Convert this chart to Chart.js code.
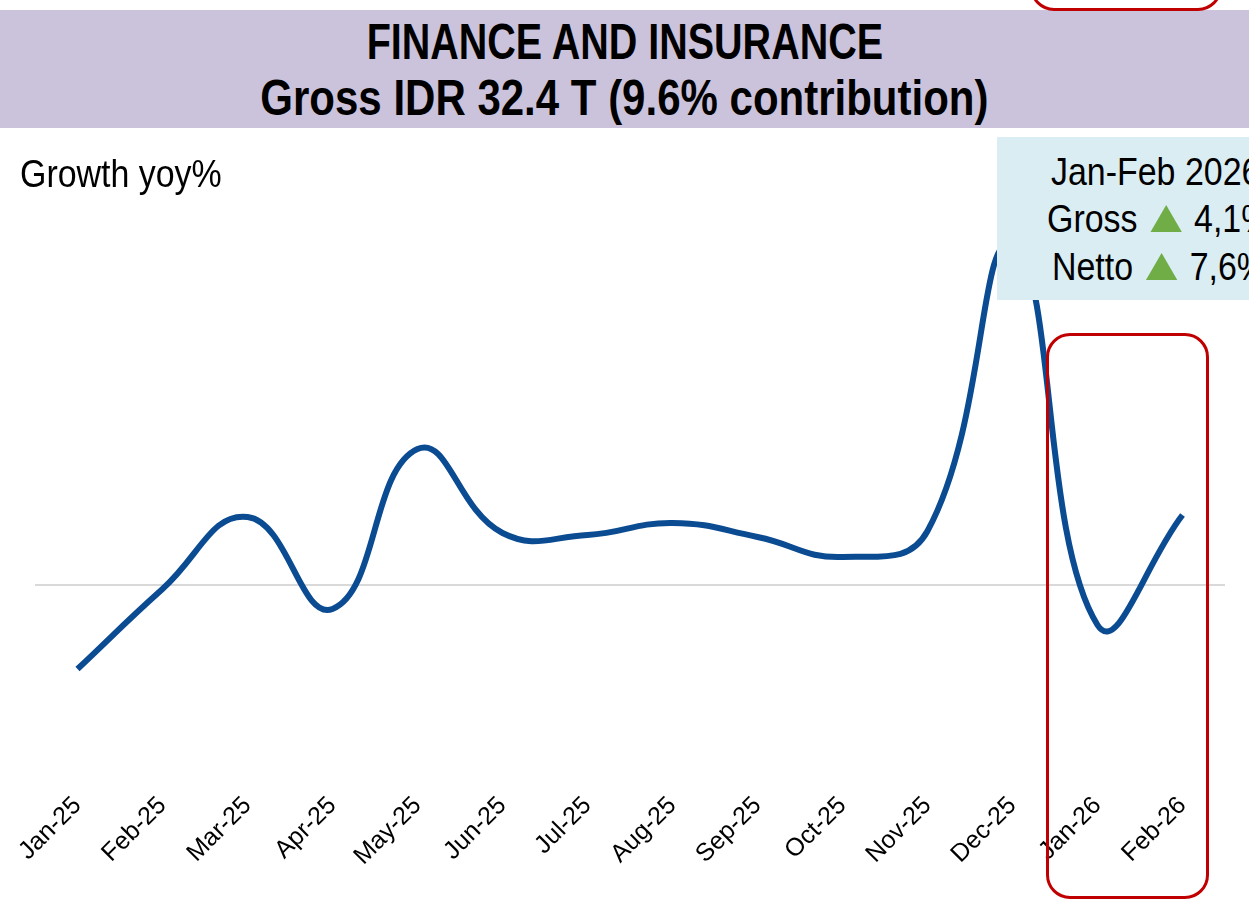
<!DOCTYPE html>
<html>
<head>
<meta charset="utf-8">
<script src="https://cdn.jsdelivr.net/npm/chart.js@4.4.1/dist/chart.umd.min.js"></script>
<style>
  html, body { margin: 0; padding: 0; background: #fff; }
  body { width: 1249px; height: 908px; position: relative; overflow: hidden;
         font-family: "Liberation Sans", Arial, sans-serif; color: #000; }
  #band {
    position: absolute; left: 0; top: 10px; width: 1249px; height: 118px;
    background: #cbc3db; text-align: center; padding-top: 4px; box-sizing: border-box;
  }
  #band .in { display: inline-block; transform-origin: center top;
              font-weight: bold; font-size: 50px; line-height: 56px; white-space: nowrap; }
  .sq { position: absolute; white-space: nowrap; transform: scaleX(0.87); transform-origin: left top;
        font-size: 39px; line-height: 48px; }
  #subtitle { left: 20px; top: 150px; z-index: 2; }
  #wrap { position: absolute; left: 0; top: 130px; width: 1249px; height: 778px; }
  #info { position: absolute; left: 997px; top: 137px; width: 260px; height: 163px;
          background: #daedf3; z-index: 3; }
  .tri { display: inline-block; width: 0; height: 0; border-left: 18px solid transparent;
         border-right: 18px solid transparent; border-bottom: 27px solid #70ad47; margin: 0 14px 0 15px; }
  .redbox { position: absolute; border: 3px solid #c00000; border-radius: 24px; z-index: 4; }
</style>
</head>
<body>
<div class="redbox" style="left:1030px; top:-40px; width:186px; height:45px;"></div>
<div id="band">
  <div class="in" style="transform: scaleX(0.79);">FINANCE AND INSURANCE</div><br>
  <div class="in" style="transform: scaleX(0.84);">Gross IDR 32.4 T (9.6% contribution)</div>
</div>
<div id="subtitle" class="sq">Growth yoy%</div>
<div id="wrap"><canvas id="chart"></canvas></div>
<div id="info"></div>
<div class="sq" style="left:1051px; top:148px; z-index:3;">Jan-Feb 2026</div>
<div class="sq" style="left:1047px; top:195px; z-index:3;">Gross<span class="tri"></span>4,1%</div>
<div class="sq" style="left:1052px; top:243px; z-index:3;">Netto<span class="tri"></span>7,6%</div>
<div class="redbox" style="left:1046px; top:333px; width:157px; height:560px;"></div>
<script>
  var months = ['Jan-25', 'Feb-25', 'Mar-25', 'Apr-25', 'May-25', 'Jun-25', 'Jul-25',
                'Aug-25', 'Sep-25', 'Oct-25', 'Nov-25', 'Dec-25', 'Jan-26', 'Feb-26'];
  var growth = [-4.2, -0.2, 3.4, -1.2, 6.8, 2.6, 2.5, 3.1, 2.4, 1.4, 2.7, 17.0, -2.0, 3.5];
  var yMin = -9.75;
  var yMax = 21.75;

  var ctx = document.getElementById('chart').getContext('2d');
  var mychart = new Chart(ctx, {
    type: 'line',
    data: {
      labels: months,
      datasets: [{
        label: 'Growth yoy%',
        data: growth,
        borderColor: '#0a4b92',
        borderWidth: 6,
        pointRadius: 0,
        tension: 0.45,
        fill: false
      }]
    },
    options: {
      responsive: true,
      maintainAspectRatio: false,
      animation: false,
      layout: { padding: { left: 35, right: 24, top: 20, bottom: 0 } },
      plugins: { legend: { display: false }, tooltip: { enabled: false } },
      scales: {
        x: {
          offset: true,
          grid: { display: false },
          border: { display: false },
          afterFit: function (axis) { axis.height = 128; },
          ticks: {
            minRotation: 45, maxRotation: 45, color: '#000',
            font: { family: 'Liberation Sans, Arial, sans-serif', size: 25 }
          }
        },
        y: {
          min: yMin, max: yMax,
          border: { display: false },
          ticks: { display: false },
          afterBuildTicks: function (axis) { axis.ticks = [{ value: 0 }]; },
          grid: { drawTicks: false, lineWidth: 2, color: '#d9d9d9' }
        }
      }
    }
  });
</script>
</body>
</html>
